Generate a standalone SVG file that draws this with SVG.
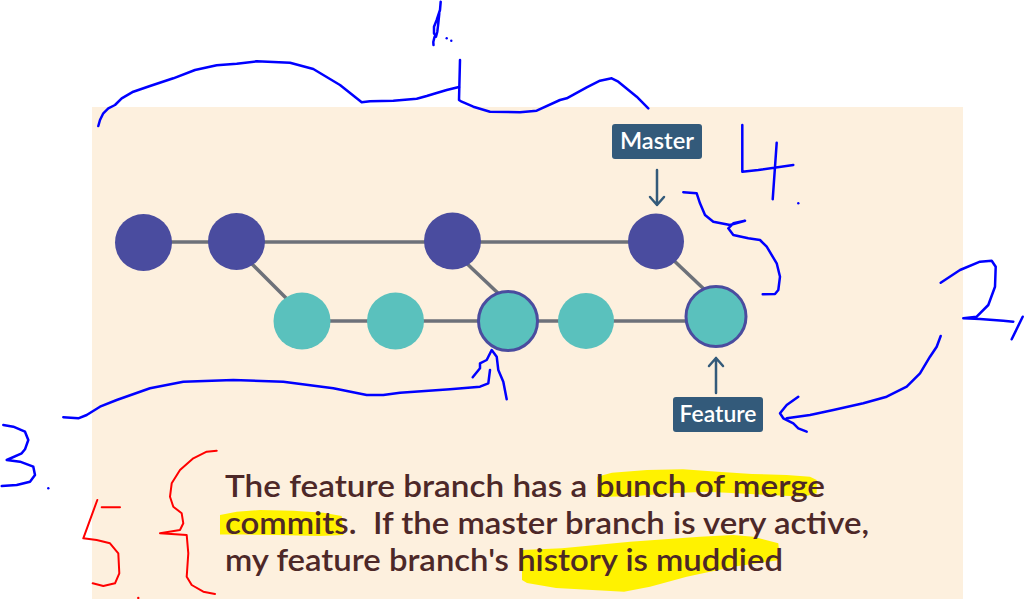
<svg xmlns="http://www.w3.org/2000/svg" width="1030" height="599" viewBox="0 0 1030 599">
<style>
.bg{fill:#FDF0DE}
.edge{stroke:#6D7179;stroke-width:3.5;fill:none}
.main{fill:#4A4C9F}
.feat{fill:#5AC1BD}
.merge{fill:#5AC1BD;stroke:#4A4C9F;stroke-width:3}
.lbl{fill:#335A7A}
.lbltxt{fill:#FFFFFF;font-family:Lato,"Open Sans",sans-serif;font-size:23px;font-weight:600}
.ptr{stroke:#335A7A;stroke-width:2.5;fill:none;stroke-linecap:round;stroke-linejoin:round}
.body{fill:#4D2828;font-family:Lato,"Open Sans",sans-serif;font-size:31px;font-weight:600}
.hl{fill:#FFF200}
.ink{stroke:#0000FF;stroke-width:2.5;fill:none;stroke-linecap:round;stroke-linejoin:round}
.red{stroke:#FF0000;stroke-width:2;fill:none;stroke-linecap:round;stroke-linejoin:round}
</style>
<rect class="bg" x="92" y="107" width="871" height="492"/>

<g id="connectors">
<path class="edge" d="M143 242 H656"/>
<path class="edge" d="M302 321 H690"/>
<path class="edge" d="M248 260 L292 304"/>
<path class="edge" d="M462 259 L500 295"/>
<path class="edge" d="M668 255 L706 291"/>
<path class="ptr" d="M657 170 V205 M650 197 L657 205 L664 197"/>
<path class="ptr" d="M716 393 V358 M709 366 L716 358 L723 366"/>
</g>

<g id="c1"><circle class="main" cx="143.5" cy="242.5" r="28.5"/></g>
<g id="c2"><circle class="main" cx="236.5" cy="241.5" r="28.5"/></g>
<g id="c3"><circle class="main" cx="452.5" cy="241" r="28.5"/></g>
<g id="c4"><circle class="main" cx="656" cy="241.5" r="28"/></g>
<g id="f1"><circle class="feat" cx="302" cy="321" r="28.5"/></g>
<g id="f2"><circle class="feat" cx="395.5" cy="321" r="28.5"/></g>
<g id="f3"><circle class="merge" cx="508" cy="321" r="29.5"/></g>
<g id="f4"><circle class="feat" cx="586" cy="321" r="28"/></g>
<g id="f5"><circle class="merge" cx="716" cy="316.5" r="30"/></g>

<g id="master-label">
<rect class="lbl" x="612" y="124" width="90" height="35" rx="3"/>
<text class="lbltxt" x="657" y="149" text-anchor="middle" textLength="74" lengthAdjust="spacingAndGlyphs">Master</text>
</g>
<g id="feature-label">
<rect class="lbl" x="673" y="397" width="90" height="35" rx="3"/>
<text class="lbltxt" x="718" y="422" text-anchor="middle" textLength="77" lengthAdjust="spacingAndGlyphs">Feature</text>
</g>

<g id="highlights">
<path class="hl" d="M597 476.7 L612 472.7 L647 470 L683 469.3 L718 471.7 L752 474 L786.7 475 L810 476.7 L816.7 480 L816.7 493.3 L803.3 496.7 L770 495 L736.7 493.3 L706.7 491.7 L670 493.3 L636.7 496 L597 497 Z"/>
<path class="hl" d="M220 515 L236.7 511.7 L260 510 L293.3 510.7 L323.3 512.7 L341.7 516 L343.3 535 L320 536 L276.7 535 L243.3 534.5 L220 534.5 Z"/>
<path class="hl" d="M522 550 L562 548.3 L630 541.7 L700 536.7 L733.3 535 L753.3 536.7 L778.3 543.3 L780 560 L733.3 566.7 L686.7 576.7 L650 586.7 L624 591.7 L556 588 L527 583 L522 580 Z"/>
</g>

<g id="caption">
<text class="body" x="225" y="497" textLength="600" lengthAdjust="spacingAndGlyphs">The feature branch has a bunch of merge</text>
<text class="body" x="225" y="534" textLength="644" lengthAdjust="spacingAndGlyphs" xml:space="preserve">commits.  If the master branch is very active,</text>
<text class="body" x="225" y="571" textLength="558" lengthAdjust="spacingAndGlyphs">my feature branch's history is muddied</text>
</g>

<g id="annotations">
<path class="ink" d="M98.3 126 L100 120 L103.3 113.3 L108.3 108.3 L115 105 L121.7 98.3 L133.3 91.7 L150 86 L173.3 78.3 L195 70 L216.7 65.3 L236.7 63.7 L256.7 61.3 L290 62.7 L313.3 69 L340 85 L361.7 102.3 L370 101.3 L393.3 100.7 L416.7 98.7 L426.7 96 L433.3 94 L446.7 90 L459 87"/>
<path class="ink" d="M460 60 L459 100 L461.7 101.7 L473.3 106.7 L490 111.7 L520 112.3 L536.7 110.7 L560 100 L566.7 98.3 L586.7 87.3 L600 80.7 L611.7 78.3 L618.3 81.7 L636.7 96.7 L648.3 108.3"/>
<path class="ink" d="M440.7 1.7 L440 10 L436.7 20 L434 26.7 L434 33.3 L436 36.7 L437.3 31.7 L438.3 23.3 L439.3 13.3 M434.5 37 L433.3 42 L433.5 45"/>
<circle cx="446.7" cy="38.3" r="1.2" fill="#0000FF"/>
<circle cx="451.3" cy="40.7" r="1.2" fill="#0000FF"/>
<path class="ink" d="M742.3 125 L742.3 171.7 L758.3 170 L793.3 165 M776.7 142.7 L772.7 199.3"/>
<circle cx="798.3" cy="203.3" r="1.2" fill="#0000FF"/>
<path class="ink" d="M683.3 192.3 L696.7 193.3 L700 203.3 L705 215 L713.3 221.7 L730 225 L745 220.7 L733.3 223.3 L728.3 228.3 L733.3 235 L748.3 238.3 L760 240 L766.7 246.7 L776.7 263.3 L780 276.7 L778.3 290 L775 294 L762.7 294.3"/>
<path class="ink" d="M940.7 282.7 L960 270 L980 261.7 L991.7 260.7 L995.7 266.7 L995 286.7 L988.3 305 L976.7 316.7 L963.3 318.3 L980 319 L1003.3 320.7 L1013.3 321.7 M1022.7 316.7 L1011.7 339.3"/>
<path class="ink" d="M940.7 336 L936.7 346.7 L930 356.7 L920 373.3 L906.7 386.7 L886.7 396.7 L863.3 403.3 L833.3 410 L810 415 L786.7 418.3 M798.3 396.7 L786.7 405 L780 413.3 L783.3 418.3 L793.3 423.3 L798.3 428.3 L806.7 431.7"/>
<path class="ink" d="M63.3 417.3 L78.3 418.3 L86.7 415 L100 406.7 L116.7 400 L150 388.3 L183.3 381.7 L233.3 380 L283.3 381.7 L333.3 388.3 L366.7 395 L383.3 395 L400 392.7 L450 389.3 L480 386.7 L488.3 383.3 L490 370"/>
<path class="ink" d="M472.7 377.3 L480 368.3 L480 363.3 L486.7 360 L491.7 350 L496.7 356.7 L498.3 370 L503.3 381.7 L506.7 399.3"/>
<path class="ink" d="M3.3 425 L13.3 426.7 L25 431.7 L28.3 440 L25 449.3 L21.7 453.3 L6.7 460 L20 461.7 L33.3 466.7 L35 475 L30 481.7 L16.7 485 L1.7 486"/>
<circle cx="48.3" cy="488.3" r="1.2" fill="#0000FF"/>
<path class="red" d="M97.3 500 L83.3 538.3 L96.7 540 L110 543.3 L118.3 553.3 L119.3 573.3 L115 583.3 L103.3 586 L92.7 583.3 M101.7 507.3 L120 507.3"/>
<path class="red" d="M216.7 450.7 L206.7 451.7 L193.3 458.3 L180 470 L171.7 483.3 L170 496.7 L173.3 506.7 L181.7 513.3 L183.3 523.3 L180 530 L160 533.3 L186.7 535 L188.3 553.3 L186.7 576.7 L191.7 585 L203.3 591.7 L215 594"/>
<circle cx="138.3" cy="598" r="1.2" fill="#FF0000"/>
</g>
</svg>
